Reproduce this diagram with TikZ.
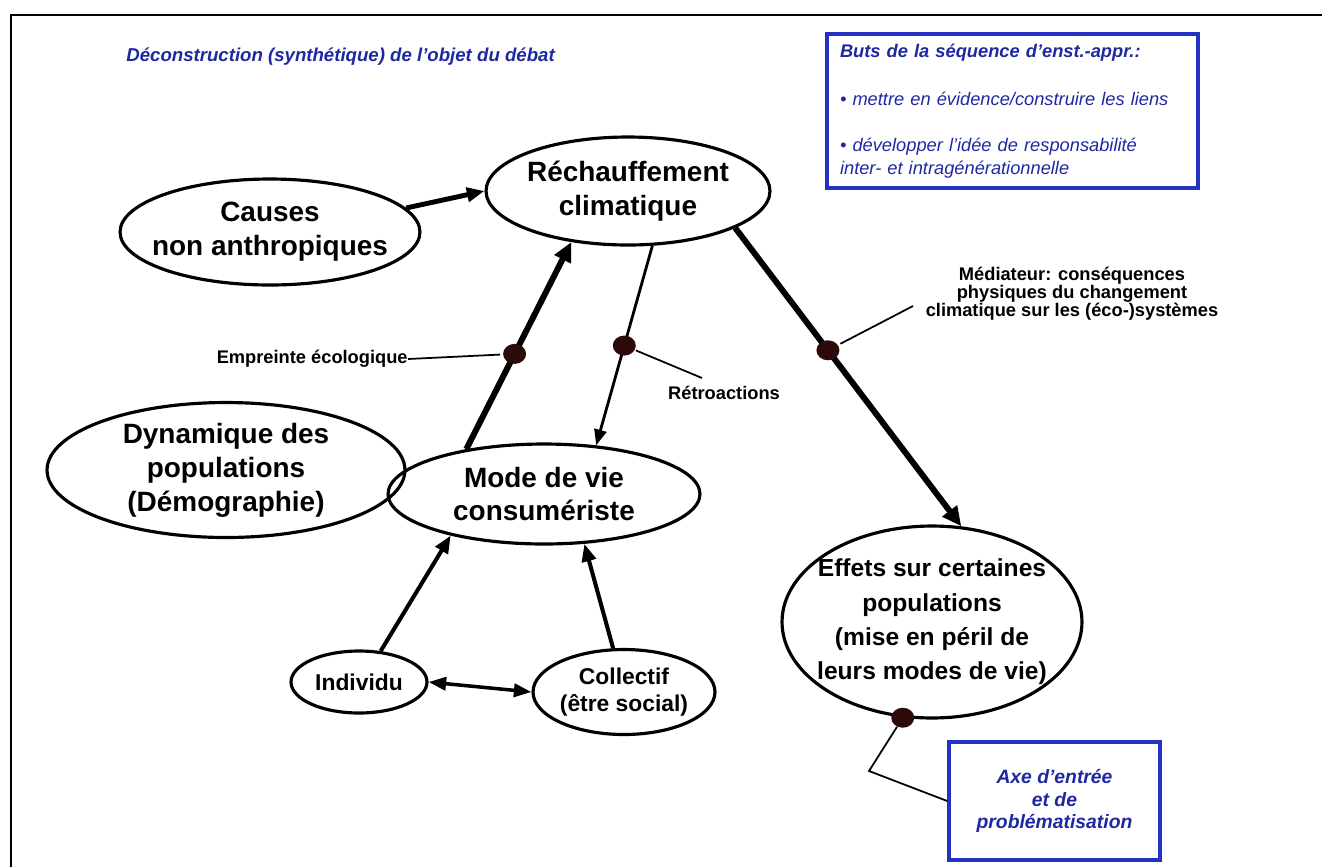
\documentclass[tikz,border=0pt]{standalone}
\usepackage{fontspec}
\setmainfont{Liberation Sans}
\usetikzlibrary{shapes.geometric}
\usetikzlibrary{arrows.meta}
\usetikzlibrary{positioning}
\definecolor{custom-blue}{RGB}{30, 40, 160}
\definecolor{custom-frame}{RGB}{35, 50, 195}
\definecolor{custom-dot}{RGB}{45, 10, 10}

\begin{document}
\begin{tikzpicture}[x=0.02cm, y=-0.02cm,
    bubble/.style={ellipse, draw=black, line width=1.8pt, inner sep=-1cm, align=center, font=\bfseries\fontsize{15.9}{19.3}\selectfont},
    smallbubble/.style={bubble, font=\bfseries\fontsize{13}{15.3}\selectfont},
    joint/.style={ellipse, fill=custom-dot, minimum width=0.46cm, minimum height=0.4cm, inner sep=0pt},
    tag/.style={font=\bfseries\fontsize{10.4}{10.4}\selectfont, inner sep=0pt},
    bluebox/.style={draw=custom-frame, line width=2pt, text=custom-blue, inner sep=0pt},
    bigarrow/.style={line width=3.4pt, -{Triangle[length=11pt, width=10pt]}},
    midarrow/.style={line width=2.3pt, -{Triangle[length=10pt, width=8pt]}},
    leader/.style={line width=1pt}]
            \useasboundingbox (0,0) rectangle (1322,867);
\draw[line width=1.5pt] (11,867) -- (11,15) -- (1322,15);
\node[anchor=west, inner sep=0pt, text=custom-blue, font=\bfseries\itshape\fontsize{10.6}{12}\selectfont] (title) at (126,57) {Déconstruction (synthétique) de l’objet du débat};
\node[bluebox, minimum width=7.42cm, minimum height=3.08cm, text width=6.9cm, align=left, font=\itshape\fontsize{10.4}{13}\selectfont] (goals) at (1012.5,111) {\textbf{Buts de la séquence d’enst.-appr.:}\\[14.7pt] • mettre en évidence/construire les liens\\[13pt] • développer l’idée de responsabilité\\ inter- et intragénérationnelle};
\node[bluebox, minimum width=4.22cm, minimum height=2.36cm, align=center, font=\bfseries\itshape\fontsize{11}{13}\selectfont] (axe) at (1054.5,801) {Axe d’entrée\\et de\\problématisation};
\node[bubble, minimum width=5.68cm, minimum height=2.16cm] (rech) at (628,191) {Réchauffement\\climatique};
\node[bubble, minimum width=6cm, minimum height=2.12cm] (causes) at (270,232) {Causes\\non anthropiques};
\node[bubble, minimum width=7.16cm, minimum height=2.7cm] (demo) at (226,470) {Dynamique des\\populations\\(Démographie)};
\node[bubble, minimum width=6.24cm, minimum height=2cm] (mode) at (544,494) {Mode de vie\\consumériste};
\node[bubble, minimum width=6cm, minimum height=3.84cm, font=\bfseries\fontsize{14}{19.5}\selectfont] (effets) at (932,622) {Effets sur certaines\\populations\\(mise en péril de\\leurs modes de vie)};
\node[smallbubble, minimum width=2.72cm, minimum height=1.24cm] (indiv) at (359,682) {Individu};
\node[smallbubble, minimum width=3.64cm, minimum height=1.7cm] (coll) at (624,692) {Collectif\\(être social)};
\node[tag, anchor=east] (emp-label) at (408,359) {Empreinte écologique};
\node[tag] (retro-label) at (724,393) {Rétroactions};
\node[tag, align=center, font=\bfseries\fontsize{10.4}{10.2}\selectfont] (med-label) at (1072,294) {Médiateur: conséquences\\physiques du changement\\climatique sur les (éco-)systèmes};
\draw[line width=2.8pt, -{Triangle[length=10pt, width=8pt]}] (causes.10) -- (rech.west);
\draw[bigarrow] (mode.150) -- node[joint, pos=0.46] (emp-dot) {} (rech.222);
\draw[line width=1.6pt, -{Triangle[length=9pt, width=7pt]}] (rech.294) -- node[joint, pos=0.5] (retro-dot) {} (mode.43);
\draw[bigarrow] (rech.-19) -- node[joint, pos=0.41] (med-dot) {} (effets.73);
\draw[midarrow] (indiv.55) -- (mode.204);
\draw[midarrow] (coll.104) -- (mode.309);
\draw[line width=2pt, {Triangle[length=10pt, width=7.5pt]}-{Triangle[length=10pt, width=7.5pt]}] (indiv.east) -- (coll.west);
\node[joint] (eff-dot) at (effets.253) {};
\coordinate (retro-end) at (702,378);
\coordinate (med-end) at (913,306);
\coordinate (axe-bend) at (869,771);
\draw[leader] (emp-label.east) -- (emp-dot);
\draw[leader] (retro-dot) -- (retro-end);
\draw[leader] (med-dot) -- (med-end);
\draw[leader] (eff-dot) -- (axe-bend) -- (axe.west);
        \end{tikzpicture}
\end{document}
